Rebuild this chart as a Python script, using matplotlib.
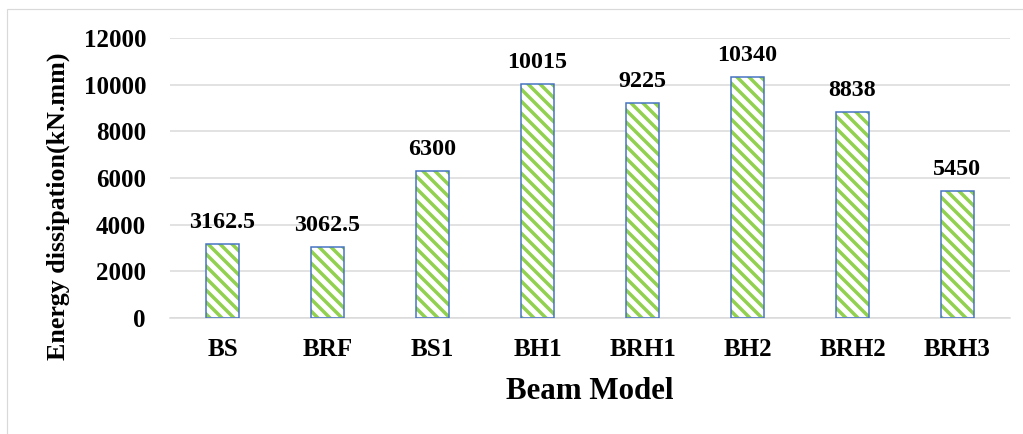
import matplotlib.pyplot as plt
from matplotlib.patches import Rectangle

# data
models = ['BS', 'BRF', 'BS1', 'BH1', 'BRH1', 'BH2', 'BRH2', 'BRH3']
energy = [3162.5, 3062.5, 6300, 10015, 9225, 10340, 8838, 5450]
yticks = [0, 2000, 4000, 6000, 8000, 10000, 12000]

plt.rcParams['font.family'] = ['Liberation Serif', 'DejaVu Serif']
plt.rcParams['font.weight'] = 'bold'
plt.rcParams['hatch.color'] = '#92D050'
plt.rcParams['hatch.linewidth'] = 3.5

W, H = 1023, 434
fig = plt.figure(figsize=(W / 72, H / 72), dpi=72)

# light frame around the chart area (cropped on right/bottom)
fig.patches.append(Rectangle((7 / W, -0.1), 1.2, (H - 9) / H + 0.1,
                             transform=fig.transFigure, fill=False,
                             edgecolor='#D9D9D9', linewidth=1.2))

ax = fig.add_axes([170 / W, (H - 318) / H, 840 / W, 280 / H])

x = range(len(models))
ax.bar(x, energy, width=0.315, color='white', edgecolor='#92D050',
       linewidth=0, hatch='\\\\', zorder=2)
ax.bar(x, energy, width=0.315, fill=False, edgecolor='#4472C4',
       linewidth=1.5, zorder=3)

for i, v in enumerate(energy):
    ax.annotate(f'{v:g}', (i, v), xytext=(0, 11), textcoords='offset points',
                ha='center', va='bottom', fontsize=24, fontweight='bold')

ax.set_xlim(-0.5, len(models) - 0.5)
ax.set_ylim(0, 12000)
ax.set_yticks(yticks)
ax.set_yticklabels([str(t) for t in yticks])
ax.set_xticks(list(x))
ax.set_xticklabels(models)
ax.tick_params(axis='both', length=0, labelsize=25)
ax.tick_params(axis='y', pad=24)
ax.tick_params(axis='x', pad=20)

ax.grid(axis='y', color='#D9D9D9', linewidth=1.5, zorder=0)
ax.set_axisbelow(True)
for s in ['top', 'right', 'left']:
    ax.spines[s].set_visible(False)
ax.spines['bottom'].set_color('#D9D9D9')
ax.spines['bottom'].set_linewidth(1.5)

ax.set_xlabel('Beam Model', fontsize=31, fontweight='bold', labelpad=16)
ax.set_ylabel('Energy dissipation(kN.mm)', fontsize=26, fontweight='bold')
ax.yaxis.set_label_coords(70 / W, (H - 206) / H, transform=fig.transFigure)

fig.savefig('out.png', dpi=72)
